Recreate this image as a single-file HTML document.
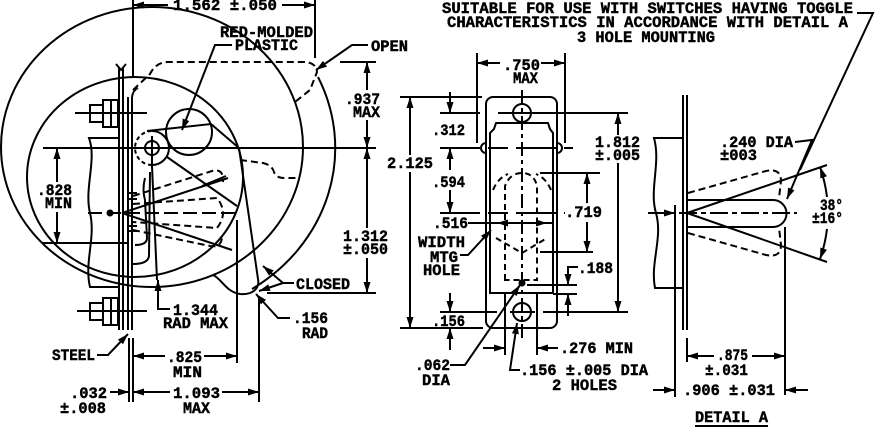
<!DOCTYPE html>
<html><head><meta charset="utf-8"><style>
html,body{margin:0;padding:0;background:#fff;}
svg{display:block}
text{font-family:"Liberation Mono","DejaVu Sans Mono",monospace;font-weight:bold;font-size:16px;fill:#000;stroke:#000;stroke-width:0.45px}
</style></head><body>
<svg width="879" height="428" viewBox="0 0 879 428" xmlns="http://www.w3.org/2000/svg">
<defs>
<marker id="a" viewBox="0 0 11 7" refX="11" refY="3.5" markerWidth="11" markerHeight="7" markerUnits="userSpaceOnUse" orient="auto-start-reverse"><path d="M0,0L11,3.5L0,7z" fill="#000"/></marker>
</defs>
<g fill="none" stroke="#000" stroke-width="2">
<!-- LEFT VIEW -->
<ellipse cx="152" cy="147" rx="151" ry="140"/>
<ellipse cx="135" cy="177" rx="108" ry="100"/>
<path d="M318,77 A183,168 0 0 1 252,289"/>
<circle cx="152" cy="148" r="7"/>
<line x1="152" y1="136" x2="152" y2="168"/>
<path d="M152,131 A17,17 0 0 1 152,165"/>
<path d="M152,165 A17,17 0 0 1 152,131" stroke-dasharray="4,3"/>
<circle cx="189" cy="132" r="23"/>
<path d="M147,131 L211,124 L239,148 L258,279"/>
<path d="M213,275 C222,279 226,292 240,294 C252,295 260,289 258,279"/>
<line x1="167" y1="157" x2="237" y2="206"/>
<line x1="122" y1="213" x2="228" y2="178"/>
<line x1="122" y1="213" x2="232" y2="250"/>
<line x1="88" y1="213" x2="237" y2="213" stroke-dasharray="14,5"/>
<circle cx="110" cy="213" r="2.5" fill="#000"/>
<path d="M133,204 L217,198 Q229,213 217,228 L133,222" stroke-dasharray="7,4"/>
<path d="M133,196 L212,171 Q224,168 223,182" stroke-dasharray="7,4"/>
<path d="M133,230 L210,246 Q222,248 222,236" stroke-dasharray="7,4"/>
<line x1="202" y1="186" x2="226" y2="176"/>
<path d="M152,166 L157,280"/>
<path d="M145,178 Q142,190 145,200 L147,238 Q147,245 135,245"/>
<path d="M150,172 L149,256 Q148,264 133,264"/>
<line x1="127" y1="193" x2="137" y2="193"/>
<line x1="127" y1="199" x2="137" y2="199"/>
<line x1="127" y1="226" x2="137" y2="226"/>
<line x1="127" y1="231" x2="137" y2="231"/>
<path d="M118,138 L89,138 C97,160 84,188 90,213 C96,238 84,262 90,287 L118,287"/>
<line x1="119" y1="67" x2="119" y2="330"/>
<line x1="123" y1="67" x2="123" y2="330"/>
<line x1="128" y1="97" x2="128" y2="330"/>
<line x1="132" y1="97" x2="132" y2="330"/>
<path d="M116,64 L121,70 L126,64"/>
<path d="M132,97 Q133,90 138,88"/>
<line x1="129" y1="338" x2="129" y2="402"/>
<line x1="133" y1="338" x2="133" y2="402"/>
<rect x="90" y="105" width="13" height="17"/><rect x="103" y="100" width="15" height="27"/>
<line x1="111" y1="100" x2="111" y2="127"/><line x1="75" y1="113" x2="147" y2="113"/>
<rect x="90" y="303" width="13" height="17"/><rect x="103" y="298" width="15" height="27"/>
<line x1="111" y1="298" x2="111" y2="325"/><line x1="77" y1="311" x2="147" y2="311"/>
<path d="M133,90 L150,74 Q156,62 168,62 L303,62 Q316,62 317,72 L310,90 L295,102" stroke-dasharray="7,4"/>
<path d="M240,160 L263,163 Q272,165 274,172 Q276,178 285,178 L300,178" stroke-dasharray="7,4"/>
<!-- left dims -->
<line x1="133" y1="0" x2="133" y2="77"/>
<line x1="315" y1="0" x2="315" y2="58"/>
<line x1="168" y1="5" x2="133" y2="5" marker-end="url(#a)"/>
<line x1="282" y1="5" x2="315" y2="5" marker-end="url(#a)"/>
<line x1="43" y1="148" x2="376" y2="148"/>
<line x1="340" y1="62" x2="376" y2="62"/>
<line x1="367" y1="90" x2="367" y2="62" marker-end="url(#a)"/>
<line x1="367" y1="120" x2="367" y2="148" marker-end="url(#a)"/>
<line x1="367" y1="228" x2="367" y2="148" marker-end="url(#a)"/>
<line x1="367" y1="258" x2="367" y2="293" marker-end="url(#a)"/>
<line x1="267" y1="293" x2="376" y2="293"/>
<line x1="57" y1="182" x2="57" y2="148" marker-end="url(#a)"/>
<line x1="57" y1="212" x2="57" y2="243" marker-end="url(#a)"/>
<line x1="43" y1="243" x2="127" y2="243"/>
<path d="M170,309 L158,309 L158,280" marker-end="url(#a)"/>
<path d="M290,318 L278,318 L256,294" marker-end="url(#a)"/>
<path d="M294,283 L283,283 L263,266" marker-end="url(#a)"/>
<path d="M283,283 L259,291" marker-end="url(#a)"/>
<path d="M97,355 L108,355 L128,334" marker-end="url(#a)"/>
<path d="M232,45 L215,45 L182,130" marker-end="url(#a)"/>
<path d="M368,45 L352,45 L316,70" marker-end="url(#a)"/>
<line x1="165" y1="356" x2="133" y2="356" marker-end="url(#a)"/>
<line x1="204" y1="356" x2="237" y2="356" marker-end="url(#a)"/>
<line x1="237" y1="220" x2="237" y2="363"/>
<line x1="170" y1="392" x2="133" y2="392" marker-end="url(#a)"/>
<line x1="222" y1="392" x2="259" y2="392" marker-end="url(#a)"/>
<line x1="259" y1="297" x2="259" y2="402"/>
<line x1="110" y1="392" x2="129" y2="392" marker-end="url(#a)"/>
<!-- MIDDLE VIEW -->
<line x1="400" y1="97" x2="482" y2="97"/>
<line x1="400" y1="328" x2="483" y2="328"/>
<line x1="410" y1="155" x2="410" y2="97" marker-end="url(#a)"/>
<line x1="410" y1="172" x2="410" y2="328" marker-end="url(#a)"/>
<line x1="450" y1="92" x2="450" y2="113" marker-end="url(#a)"/>
<line x1="450" y1="170" x2="450" y2="148" marker-end="url(#a)"/>
<line x1="450" y1="190" x2="450" y2="213" marker-end="url(#a)"/>
<line x1="477" y1="53" x2="477" y2="143"/>
<line x1="565" y1="53" x2="565" y2="143"/>
<line x1="500" y1="63" x2="477" y2="63" marker-end="url(#a)"/>
<line x1="541" y1="63" x2="565" y2="63" marker-end="url(#a)"/>
<rect x="486" y="97" width="71" height="231" rx="7"/>
<path d="M486,143 A5,5 0 0 0 486,153"/>
<path d="M557,143 A5,5 0 0 1 557,153"/>
<path d="M490,293 L490,133 L494,129 L496,123 L548,123 L550,129 L553,133 L553,293 Z"/>
<circle cx="522" cy="113" r="9"/>
<circle cx="522" cy="312" r="9"/>
<line x1="522" y1="90" x2="522" y2="340" stroke-dasharray="14,4,4,4"/>
<line x1="440" y1="113" x2="480" y2="113"/>
<line x1="498" y1="113" x2="628" y2="113"/>
<line x1="440" y1="148" x2="573" y2="148" stroke-dasharray="40,8,20,8"/>
<line x1="440" y1="213" x2="565" y2="213" stroke-dasharray="40,8,20,8"/>
<line x1="440" y1="312" x2="497" y2="312"/>
<line x1="510" y1="312" x2="535" y2="312"/>
<line x1="543" y1="312" x2="628" y2="312"/>
<path d="M505,280 L505,186 Q510,173 522,173 Q534,173 537,186 L537,280 Z" stroke-dasharray="6,4"/>
<path d="M496,238 L522,253 L547,238" stroke-dasharray="6,4"/>
<path d="M493,190 Q498,178 508,174" stroke-dasharray="6,4"/>
<path d="M551,190 Q546,178 536,174" stroke-dasharray="6,4"/>
<circle cx="522" cy="283" r="2.5" fill="#000"/>
<line x1="540" y1="173" x2="600" y2="173"/>
<line x1="540" y1="252" x2="593" y2="252"/>
<line x1="587" y1="203" x2="587" y2="173" marker-end="url(#a)"/>
<line x1="587" y1="222" x2="587" y2="252" marker-end="url(#a)"/>
<line x1="618" y1="135" x2="618" y2="113" marker-end="url(#a)"/>
<line x1="618" y1="163" x2="618" y2="312" marker-end="url(#a)"/>
<line x1="527" y1="285" x2="577" y2="285"/>
<line x1="553" y1="294" x2="577" y2="294"/>
<path d="M578,267 L568,267 L568,285" marker-end="url(#a)"/>
<line x1="568" y1="316" x2="568" y2="294" marker-end="url(#a)"/>
<line x1="468" y1="223" x2="553" y2="223"/>
<path d="M460,255 L468,255 L491,230" marker-end="url(#a)"/>
<line x1="450" y1="293" x2="450" y2="312" marker-end="url(#a)"/>
<line x1="450" y1="350" x2="450" y2="328" marker-end="url(#a)"/>
<path d="M450,365 L465,365 L520,285" marker-end="url(#a)"/>
<line x1="505" y1="293" x2="505" y2="355"/>
<line x1="537" y1="293" x2="537" y2="355"/>
<line x1="483" y1="348" x2="505" y2="348" marker-end="url(#a)"/>
<line x1="558" y1="348" x2="537" y2="348" marker-end="url(#a)"/>
<path d="M520,370 L510,370 L517,323" marker-end="url(#a)"/>
<path d="M857,13 L873,13 L800,170"/>
<path d="M795,142 L812,140 L787,199" marker-end="url(#a)"/>
<!-- DETAIL A -->
<line x1="683" y1="95" x2="683" y2="330"/>
<line x1="687" y1="95" x2="687" y2="330"/>
<path d="M682,138 L654,138 C661,163 649,190 656,213 C663,238 650,263 655,288 L682,288"/>
<line x1="675" y1="205" x2="675" y2="397"/>
<line x1="648" y1="213" x2="797" y2="213" stroke-dasharray="18,4,5,4"/>
<line x1="660" y1="213" x2="675" y2="213" marker-end="url(#a)"/>
<path d="M687,200 L773,200 A13.5,13.5 0 0 1 773,227 L687,227"/>
<line x1="687" y1="213" x2="827" y2="165"/>
<line x1="687" y1="213" x2="827" y2="262"/>
<path d="M688,193 L766,171 Q781,168 781,181 L779,198" stroke-dasharray="7,4"/>
<path d="M688,233 L766,255 Q781,258 781,245 L779,228" stroke-dasharray="7,4"/>
<path d="M827,197 A141,141 0 0 0 820,167" marker-end="url(#a)"/>
<path d="M827,229 A141,141 0 0 1 820,259" marker-end="url(#a)"/>
<line x1="785" y1="227" x2="785" y2="395"/>
<line x1="687" y1="338" x2="687" y2="362"/>
<line x1="714" y1="356" x2="687" y2="356" marker-end="url(#a)"/>
<line x1="752" y1="356" x2="785" y2="356" marker-end="url(#a)"/>
<line x1="653" y1="390" x2="675" y2="390" marker-end="url(#a)"/>
<line x1="808" y1="390" x2="785" y2="390" marker-end="url(#a)"/>
<line x1="695" y1="426" x2="768" y2="426"/>
</g>
<g fill="#000">
<polygon points="497,223 508,219.5 508,226.5"/>
<polygon points="547,223 536,219.5 536,226.5"/>
</g>
<g>
<text x="173" y="10" textLength="104" lengthAdjust="spacingAndGlyphs">1.562 ±.050</text>
<text x="220" y="37" textLength="93" lengthAdjust="spacingAndGlyphs">RED-MOLDED</text>
<text x="235" y="50" textLength="63" lengthAdjust="spacingAndGlyphs">PLASTIC</text>
<text x="371" y="51" textLength="37" lengthAdjust="spacingAndGlyphs">OPEN</text>
<text x="345" y="104" textLength="35" lengthAdjust="spacingAndGlyphs">.937</text>
<text x="353" y="117" textLength="27" lengthAdjust="spacingAndGlyphs">MAX</text>
<text x="37" y="195" textLength="35" lengthAdjust="spacingAndGlyphs">.828</text>
<text x="45" y="208" textLength="27" lengthAdjust="spacingAndGlyphs">MIN</text>
<text x="343" y="241" textLength="45" lengthAdjust="spacingAndGlyphs">1.312</text>
<text x="343" y="254" textLength="45" lengthAdjust="spacingAndGlyphs">±.050</text>
<text x="296" y="289" textLength="54" lengthAdjust="spacingAndGlyphs">CLOSED</text>
<text x="173" y="315" textLength="45" lengthAdjust="spacingAndGlyphs">1.344</text>
<text x="163" y="328" textLength="65" lengthAdjust="spacingAndGlyphs">RAD MAX</text>
<text x="293" y="323" textLength="35" lengthAdjust="spacingAndGlyphs">.156</text>
<text x="302" y="338" textLength="26" lengthAdjust="spacingAndGlyphs">RAD</text>
<text x="52" y="360" textLength="43" lengthAdjust="spacingAndGlyphs">STEEL</text>
<text x="167" y="362" textLength="35" lengthAdjust="spacingAndGlyphs">.825</text>
<text x="173" y="377" textLength="29" lengthAdjust="spacingAndGlyphs">MIN</text>
<text x="70" y="398" textLength="37" lengthAdjust="spacingAndGlyphs">.032</text>
<text x="60" y="413" textLength="46" lengthAdjust="spacingAndGlyphs">±.008</text>
<text x="173" y="398" textLength="47" lengthAdjust="spacingAndGlyphs">1.093</text>
<text x="183" y="413" textLength="27" lengthAdjust="spacingAndGlyphs">MAX</text>
<text x="442" y="13" textLength="411" lengthAdjust="spacingAndGlyphs">SUITABLE FOR USE WITH SWITCHES HAVING TOGGLE</text>
<text x="447" y="27" textLength="401" lengthAdjust="spacingAndGlyphs">CHARACTERISTICS IN ACCORDANCE WITH DETAIL A</text>
<text x="577" y="42" textLength="138" lengthAdjust="spacingAndGlyphs">3 HOLE MOUNTING</text>
<text x="503" y="70" textLength="37" lengthAdjust="spacingAndGlyphs">.750</text>
<text x="513" y="83" textLength="25" lengthAdjust="spacingAndGlyphs">MAX</text>
<text x="387" y="168" textLength="46" lengthAdjust="spacingAndGlyphs">2.125</text>
<text x="432" y="135" textLength="33" lengthAdjust="spacingAndGlyphs">.312</text>
<text x="595" y="147" textLength="45" lengthAdjust="spacingAndGlyphs">1.812</text>
<text x="595" y="160" textLength="45" lengthAdjust="spacingAndGlyphs">±.005</text>
<text x="432" y="187" textLength="33" lengthAdjust="spacingAndGlyphs">.594</text>
<text x="565" y="217" textLength="37" lengthAdjust="spacingAndGlyphs">.719</text>
<text x="433" y="228" textLength="35" lengthAdjust="spacingAndGlyphs">.516</text>
<text x="418" y="247" textLength="47" lengthAdjust="spacingAndGlyphs">WIDTH</text>
<text x="430" y="262" textLength="28" lengthAdjust="spacingAndGlyphs">MTG</text>
<text x="423" y="275" textLength="37" lengthAdjust="spacingAndGlyphs">HOLE</text>
<text x="578" y="273" textLength="35" lengthAdjust="spacingAndGlyphs">.188</text>
<text x="432" y="326" textLength="33" lengthAdjust="spacingAndGlyphs">.156</text>
<text x="560" y="353" textLength="73" lengthAdjust="spacingAndGlyphs">.276 MIN</text>
<text x="415" y="370" textLength="35" lengthAdjust="spacingAndGlyphs">.062</text>
<text x="422" y="385" textLength="28" lengthAdjust="spacingAndGlyphs">DIA</text>
<text x="520" y="375" textLength="128" lengthAdjust="spacingAndGlyphs">.156 ±.005 DIA</text>
<text x="552" y="390" textLength="65" lengthAdjust="spacingAndGlyphs">2 HOLES</text>
<text x="720" y="147" textLength="73" lengthAdjust="spacingAndGlyphs">.240 DIA</text>
<text x="720" y="160" textLength="37" lengthAdjust="spacingAndGlyphs">±003</text>
<text x="820" y="210" textLength="23" lengthAdjust="spacingAndGlyphs">38°</text>
<text x="812" y="223" textLength="31" lengthAdjust="spacingAndGlyphs">±16°</text>
<text x="717" y="360" textLength="31" lengthAdjust="spacingAndGlyphs">.875</text>
<text x="705" y="375" textLength="43" lengthAdjust="spacingAndGlyphs">±.031</text>
<text x="683" y="395" textLength="92" lengthAdjust="spacingAndGlyphs">.906 ±.031</text>
<text x="695" y="422" textLength="73" lengthAdjust="spacingAndGlyphs">DETAIL A</text>
</g>
</svg>
</body></html>
